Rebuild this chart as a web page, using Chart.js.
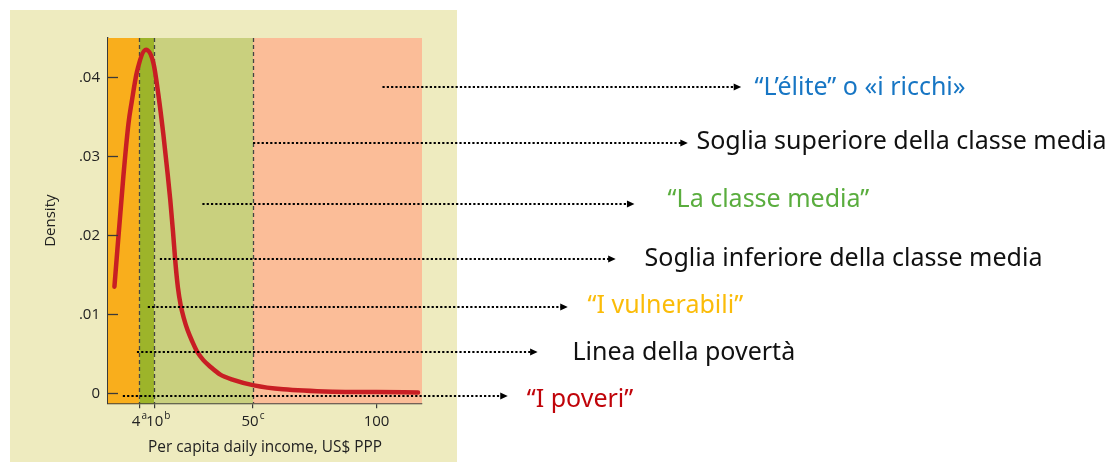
<!DOCTYPE html>
<html>
<head>
<meta charset="utf-8">
<script src="https://cdn.jsdelivr.net/npm/chart.js@4.4.0/dist/chart.umd.min.js"></script>
<style>
  html, body { margin: 0; padding: 0; background: #fff; }
  #wrap { width: 1118px; height: 462px; }
</style>
</head>
<body>
<div id="wrap"><canvas id="chart" width="1118" height="462"></canvas></div>
<script>
// ===== Data =====
const incomeX = [-6.1, -2.5, -0.4, 0.9, 3.0, 6.7, 9.7, 11.7, 13.7, 15.3, 16.5, 17.6, 18.6, 19.6, 20.7, 22.0, 23.5, 25.5, 27.5, 29.9, 32.6, 36.6, 42, 50.4, 62.2, 82.4, 100, 116.8];
const density = [0.0135, 0.0274, 0.0342, 0.0369, 0.0407, 0.0435, 0.0418, 0.0378, 0.0328, 0.0282, 0.0245, 0.0205, 0.0165, 0.0134, 0.0112, 0.0095, 0.0080, 0.0065, 0.0052, 0.0042, 0.0034, 0.0024, 0.0017, 0.0010, 0.0005, 0.0002, 0.00015, 0.0001];

const yTicks = [0, 0.01, 0.02, 0.03, 0.04];
const yTickLabels = ['0', '.01', '.02', '.03', '.04'];
const xTicks = [4, 10, 50, 100];
const xTickLabels = ['4', '10', '50', '100'];
const xTickNotes = ['a', 'b', 'c', ''];

// soglie: povertà, vulnerabili, classe media alta
const thresholds = [4, 10, 50];

// annotazioni (frecce fuori dal grafico)
const noteLabels = ['\u201cL\u2019\u00e9lite\u201d o \u00abi ricchi\u00bb', 'Soglia superiore della classe media', '\u201cLa classe media\u201d', 'Soglia inferiore della classe media', '\u201cI vulnerabili\u201d', 'Linea della povert\u00e0', '\u201cI poveri\u201d'];
const noteY = [0.0388, 0.03165, 0.0240, 0.0170, 0.0109, 0.0052, -0.00034];
const noteFromX = [102.4, 50, 29.5, 12.3, 7.4, 3.0, -2.7];
const noteToX = [247.6, 226, 204.4, 196.8, 177.4, 165.2, 153.1];
const noteTextX = [253, 229.5, 217.8, 208.5, 185.4, 179.3, 160.8];

// ===== Styles =====
const fontFamily = "'Open Sans', 'Noto Sans', sans-serif";
const axisFont = { family: fontFamily, size: 15 };
const noteFont = "25px 'Noto Sans', sans-serif";
const noteDy = [1, -1, -4, 0, -1, 1, 4];
const xLabelShift = [0, 4, 0, 0];
const axisColor = '#3a3a3a';
const bandColors = ['#f9ae1c', '#9db42a', '#c9d07e', '#fbbd98'];
const noteColors = ['#1776c4', '#111111', '#5aad3e', '#111111', '#fbbc09', '#111111', '#c0040a'];

const backgroundPanel = {
  id: 'backgroundPanel',
  beforeDraw(chart){
    const c = chart.ctx;
    c.save();
    c.fillStyle = '#eeebbf';
    c.fillRect(10, 10, 447, 452);
    c.restore();
  }
};

const incomeBands = {
  id: 'incomeBands',
  beforeDatasetsDraw(chart){
    const c = chart.ctx;
    const {top, bottom, left, right} = chart.chartArea;
    const x = chart.scales.x;
    const edges = [left, ...thresholds.map(v => x.getPixelForValue(v)), right];
    c.save();
    for (let i = 0; i < bandColors.length; i++) {
      c.fillStyle = bandColors[i];
      c.fillRect(edges[i], top, edges[i+1] - edges[i], bottom - top);
    }
    c.strokeStyle = '#444';
    c.lineWidth = 1.3;
    c.setLineDash([4, 3]);
    thresholds.forEach(v => {
      const px = Math.round(x.getPixelForValue(v)) + 0.5;
      c.beginPath(); c.moveTo(px, top); c.lineTo(px, bottom); c.stroke();
    });
    c.restore();
  },
  afterDatasetsDraw(chart){
    const c = chart.ctx;
    const {left, bottom} = chart.chartArea;
    const x = chart.scales.x, y = chart.scales.y;
    c.save();
    // tacche interne asse y
    c.strokeStyle = axisColor;
    c.lineWidth = 1.3;
    yTicks.forEach(v => {
      const py = Math.round(y.getPixelForValue(v)) + 0.5;
      c.beginPath(); c.moveTo(left, py); c.lineTo(left + 10, py); c.stroke();
    });
    // etichette asse x con note in apice
    c.fillStyle = '#222';
    c.textBaseline = 'alphabetic';
    c.textAlign = 'left';
    xTicks.forEach((v, i) => {
      c.font = `15px ${fontFamily}`;
      const w = c.measureText(xTickLabels[i]).width;
      c.font = `10px ${fontFamily}`;
      const ws = xTickNotes[i] ? c.measureText(xTickNotes[i]).width + 1 : 0;
      const x0 = x.getPixelForValue(v) - (w + ws) / 2 + xLabelShift[i];
      c.font = `15px ${fontFamily}`;
      c.fillText(xTickLabels[i], x0, bottom + 23);
      if (xTickNotes[i]) {
        c.font = `10px ${fontFamily}`;
        c.fillText(xTickNotes[i], x0 + w + 1, bottom + 16);
      }
    });
    // frecce punteggiate + testi
    noteLabels.forEach((txt, i) => {
      const py = Math.round(y.getPixelForValue(noteY[i]));
      const x0 = x.getPixelForValue(noteFromX[i]);
      const x1 = x.getPixelForValue(noteToX[i]);
      c.strokeStyle = '#000';
      c.lineWidth = 2.2;
      c.setLineDash([2.2, 2.1]);
      c.beginPath(); c.moveTo(x0, py); c.lineTo(x1 - 6, py); c.stroke();
      c.setLineDash([]);
      c.fillStyle = '#000';
      c.beginPath(); c.moveTo(x1, py); c.lineTo(x1 - 7.5, py - 3.5); c.lineTo(x1 - 7.5, py + 3.5); c.closePath(); c.fill();
      c.font = noteFont;
      c.fillStyle = noteColors[i];
      c.textBaseline = 'middle';
      c.textAlign = 'left';
      c.fillText(txt, x.getPixelForValue(noteTextX[i]), py + noteDy[i]);
    });
    c.restore();
  }
};

new Chart(document.getElementById('chart'), {
  type: 'line',
  data: {
    datasets: [{
      data: incomeX.map((v, i) => ({ x: v, y: density[i] })),
      borderColor: '#c81e24',
      borderWidth: 4.5,
      pointRadius: 0,
      cubicInterpolationMode: 'monotone',
      fill: false,
      borderCapStyle: 'round',
      borderJoinStyle: 'round'
    }]
  },
  options: {
    responsive: false,
    animation: false,
    layout: { padding: { top: 38, right: 696, left: 0, bottom: 0 } },
    plugins: { legend: { display: false }, tooltip: { enabled: false } },
    scales: {
      x: {
        type: 'linear',
        min: -8.7,
        max: 118.4,
        afterFit(s){ s.height = 58.7; },
        afterBuildTicks(s){ s.ticks = xTicks.map(v => ({ value: v })); },
        ticks: { display: false },
        grid: { drawOnChartArea: false, drawTicks: true, tickLength: 5, color: axisColor, lineWidth: 1.2 },
        border: { color: axisColor, width: 1.3 },
        title: { display: true, text: 'Per capita daily income, US$ PPP', font: { family: fontFamily, size: 15.4 }, color: '#222', padding: { top: 0, bottom: 5 } }
      },
      y: {
        type: 'linear',
        min: -0.00127,
        max: 0.045,
        afterFit(s){ s.width = 108; },
        afterBuildTicks(s){ s.ticks = yTicks.map(v => ({ value: v })); },
        ticks: { callback: (v, i) => yTickLabels[i], font: axisFont, color: '#222', padding: 8 },
        grid: { display: false, drawTicks: false },
        border: { color: axisColor, width: 1.3 },
        title: { display: true, text: 'Density', font: axisFont, color: '#222', padding: { top: 42, bottom: 0 } }
      }
    }
  },
  plugins: [backgroundPanel, incomeBands]
});
</script>
</body>
</html>
